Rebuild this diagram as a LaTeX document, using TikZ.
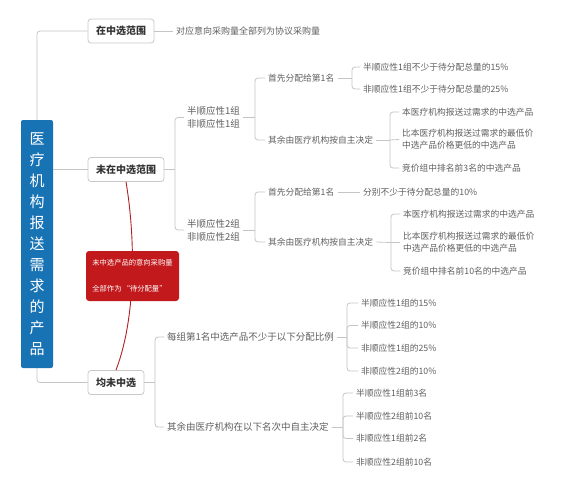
\documentclass[tikz,border=0pt]{standalone}
\usepackage{fontspec}
\setmainfont{Noto Sans CJK SC}
\definecolor{rootblue}{HTML}{1873B5}
\definecolor{boxred}{HTML}{C2191C}
\definecolor{linered}{HTML}{B01E23}
\definecolor{conngray}{HTML}{C4C4C4}
\definecolor{txtgray}{HTML}{5E5E5E}
\definecolor{boxgray}{HTML}{C8C8C8}
\tikzset{
  conn/.style={draw=conngray, line width=0.8pt},
  brk/.style={conn, rounded corners=3pt},
  rootbox/.style={fill=rootblue, rounded corners=2pt, text=white, minimum width=32pt, minimum height=248pt, inner sep=0pt, align=center, font=\fontsize{15}{21}\selectfont},
  lvone/.style={draw=boxgray, fill=white, rounded corners=3pt, line width=0.8pt, text=black!80, minimum height=24pt, inner sep=0pt, font=\fontsize{10}{12}\selectfont\bfseries},
  lvtwo/.style={anchor=west, inner sep=3pt, text=txtgray, align=left, font=\fontsize{9.5}{13}\selectfont},
  lvthree/.style={anchor=west, inner sep=3pt, text=txtgray, align=left, font=\fontsize{8.75}{12}\selectfont},
  redbox/.style={fill=boxred, rounded corners=3pt, text=white, minimum width=93pt, minimum height=50pt, inner sep=0pt, align=left, font=\fontsize{7.3}{26}\selectfont},
}
\begin{document}
\begin{tikzpicture}[x=1pt,y=-1pt]
\useasboundingbox (0,0) rectangle (579,491);
% root
\node[rootbox] (root) at (37,244) {医\\疗\\机\\构\\报\\送\\需\\求\\的\\产\\品};
% level one
\node[lvone, minimum width=66pt] (n1) at (121,31) {在中选范围};
\node[lvone, minimum width=76pt] (n2) at (126,169.5) {未在中选范围};
\node[lvone, minimum width=56pt] (n3) at (116,382.5) {均未中选};
\draw[brk] (root.north) |- (n1.west);
\draw[conn] (root.east |- n2.west) -- (n2.west);
\draw[brk] (root.south) |- (n3.west);
% red annotation
\draw[draw=linered, line width=0.9pt] (n2.south) .. controls (135,235) and (137,315) .. (n3.north);
\node[redbox] (rb) at (132.5,276) {未中选产品的意向采购量\\全部作为\,“待分配量”};
% in range
\node[lvthree, font=\fontsize{9}{12}\selectfont] (t1) at (173,31) {对应意向采购量全部列为协议采购量};
\draw[conn] (n1.east) -- (t1.west);
% not in range
\node[lvtwo] (a1) at (184,117.5) {半顺应性1组\\非顺应性1组};
\node[lvtwo] (a2) at (184,230) {半顺应性2组\\非顺应性2组};
\coordinate (j2) at (175,169.5);
\draw[conn] (n2.east) -- (j2);
\draw[brk] (j2) |- (a1.west);
\draw[brk] (j2) |- (a2.west);
% group 1
\node[lvthree] (b1) at (265,78) {首先分配给第1名};
\node[lvthree] (b2) at (265,140) {其余由医疗机构按自主决定};
\coordinate (ja1) at (255,117.5);
\draw[conn] (a1.east) -- (ja1);
\draw[brk] (ja1) |- (b1.west);
\draw[brk] (ja1) |- (b2.west);
\node[lvthree] (c1) at (360,67) {半顺应性1组不少于待分配总量的15\%};
\node[lvthree] (c2) at (360,89) {非顺应性1组不少于待分配总量的25\%};
\coordinate (jb1) at (352,78);
\draw[conn] (b1.east) -- (jb1);
\draw[brk] (jb1) |- (c1.west);
\draw[brk] (jb1) |- (c2.west);
\node[lvthree] (c3) at (399,112) {本医疗机构报送过需求的中选产品};
\node[lvthree] (c4) at (399,139.5) {比本医疗机构报送过需求的最低价\\中选产品价格更低的中选产品};
\node[lvthree] (c5) at (399,168) {竞价组中排名前3名的中选产品};
\coordinate (jb2) at (390,140);
\draw[conn] (b2.east) -- (jb2);
\draw[brk] (jb2) |- (c3.west);
\draw[conn] (jb2) -- (c4.west);
\draw[brk] (jb2) |- (c5.west);
% group 2
\node[lvthree] (b3) at (265,192) {首先分配给第1名};
\node[lvthree] (b4) at (265,242) {其余由医疗机构按自主决定};
\coordinate (ja2) at (255,230);
\draw[conn] (a2.east) -- (ja2);
\draw[brk] (ja2) |- (b3.west);
\draw[brk] (ja2) |- (b4.west);
\node[lvthree] (c6) at (360,192) {分别不少于待分配总量的10\%};
\draw[conn] (b3.east) -- (c6.west);
\node[lvthree] (c7) at (400,214) {本医疗机构报送过需求的中选产品};
\node[lvthree] (c8) at (400,242.5) {比本医疗机构报送过需求的最低价\\中选产品价格更低的中选产品};
\node[lvthree] (c9) at (400,271) {竞价组中排名前10名的中选产品};
\coordinate (jb4) at (391,242.5);
\draw[conn] (b4.east) -- (jb4);
\draw[brk] (jb4) |- (c7.west);
\draw[conn] (jb4) -- (c8.west);
\draw[brk] (jb4) |- (c9.west);
% none selected
\node[lvtwo] (d1) at (164,337) {每组第1名中选产品不少于以下分配比例};
\node[lvtwo] (d2) at (164,427) {其余由医疗机构在以下名次中自主决定};
\coordinate (j3) at (155,382.5);
\draw[conn] (n3.east) -- (j3);
\draw[brk] (j3) |- (d1.west);
\draw[brk] (j3) |- (d2.west);
\node[lvthree] (e1) at (358,303) {半顺应性1组的15\%};
\node[lvthree] (e2) at (358,325.5) {半顺应性2组的10\%};
\node[lvthree] (e3) at (358,348) {非顺应性1组的25\%};
\node[lvthree] (e4) at (358,371) {非顺应性2组的10\%};
\coordinate (jd1) at (347,337);
\draw[conn] (d1.east) -- (jd1);
\draw[brk] (jd1) |- (e1.west);
\draw[brk] (jd1) |- (e2.west);
\draw[brk] (jd1) |- (e3.west);
\draw[brk] (jd1) |- (e4.west);
\node[lvthree] (f1) at (353,393) {半顺应性1组前3名};
\node[lvthree] (f2) at (353,416) {半顺应性2组前10名};
\node[lvthree] (f3) at (353,438.5) {非顺应性1组前2名};
\node[lvthree] (f4) at (353,462) {非顺应性2组前10名};
\coordinate (jd2) at (343,427);
\draw[conn] (d2.east) -- (jd2);
\draw[brk] (jd2) |- (f1.west);
\draw[brk] (jd2) |- (f2.west);
\draw[brk] (jd2) |- (f3.west);
\draw[brk] (jd2) |- (f4.west);
\end{tikzpicture}
\end{document}
